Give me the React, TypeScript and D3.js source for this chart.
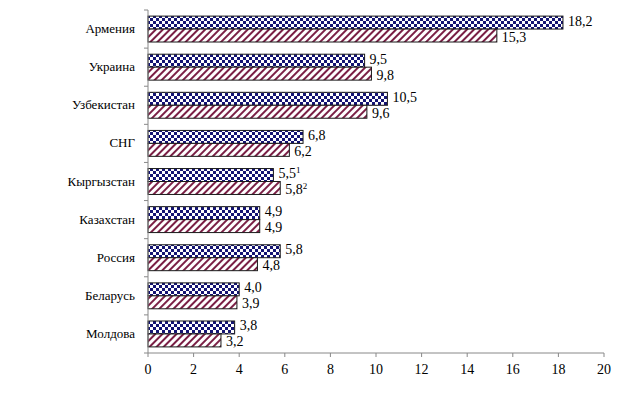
import React from 'react'
import * as d3 from 'd3'

const countries = ['Армения', 'Украина', 'Узбекистан', 'СНГ', 'Кыргызстан', 'Казахстан', 'Россия', 'Беларусь', 'Молдова']
const seriesA = [18.2, 9.5, 10.5, 6.8, 5.5, 4.9, 5.8, 4.0, 3.8]
const seriesB = [15.3, 9.8, 9.6, 6.2, 5.8, 4.9, 4.8, 3.9, 3.2]
const notesA = ['', '', '', '', '1', '', '', '', '']
const notesB = ['', '', '', '', '2', '', '', '', '']
const xTicks = [0, 2, 4, 6, 8, 10, 12, 14, 16, 18, 20]

const fmt = (v: number) => v.toFixed(1).replace('.', ',')

export default function App() {
    const width = 625
    const height = 394
    const left = 148
    const right = 604
    const top = 10
    const bottom = 353

    const x = d3.scaleLinear().domain([0, 20]).range([left, right])
    const y = d3.scaleBand<string>()
        .domain(countries)
        .range([top, bottom])
        .paddingInner(0.32)
        .paddingOuter(0.16)
    const sub = d3.scaleBand<string>().domain(['a', 'b']).range([0, y.bandwidth()])

    const step = y.step()
    const gap = step * 0.32 / 2
    const boundaries = countries.map(c => (y(c) as number) - gap).concat([bottom])

    const series = [
        { key: 'a', values: seriesA, notes: notesA, fill: 'url(#checks)' },
        { key: 'b', values: seriesB, notes: notesB, fill: 'url(#stripes)' },
    ]

    return (
        <div style={{ margin: '-8px' }}>
            <svg width={width} height={height} fontFamily="Liberation Serif" style={{ display: 'block' }}>
                <defs>
                    <pattern id="checks" width="6" height="6" patternUnits="userSpaceOnUse">
                        <rect width="6" height="6" fill="#ffffff" />
                        <rect width="3" height="3" fill="#141473" />
                        <rect x="3" y="3" width="3" height="3" fill="#141473" />
                    </pattern>
                    <pattern id="stripes" width="5" height="5" patternUnits="userSpaceOnUse" patternTransform="rotate(45)">
                        <rect width="5" height="5" fill="#ffffff" />
                        <rect width="2" height="5" fill="#7a1f45" />
                    </pattern>
                </defs>

                {series.map(s => (
                    <g key={s.key}>
                        {countries.map((c, i) => {
                            const yy = (y(c) as number) + (sub(s.key) as number)
                            const h = sub.bandwidth()
                            return (
                                <g key={c}>
                                    <rect x={x(0)} y={yy} width={x(s.values[i]) - x(0)} height={h}
                                        fill={s.fill} stroke="#1a1a1a" strokeWidth={1} />
                                    <text x={x(s.values[i]) + 5} y={yy + h / 2 + (s.key === 'a' ? 3 : 6)}
                                        fontFamily="Liberation Serif" fontSize={14} fill="#000">
                                        {fmt(s.values[i])}
                                        {s.notes[i] && (
                                            <tspan fontSize={9} dy={-5}>{s.notes[i]}</tspan>
                                        )}
                                    </text>
                                </g>
                            )
                        })}
                    </g>
                ))}

                {/* category axis */}
                <line x1={left} x2={left} y1={top} y2={bottom} stroke="#888" />
                {boundaries.map((b, i) => (
                    <line key={i} x1={left - 4} x2={left} y1={b} y2={b} stroke="#888" />
                ))}
                {countries.map(c => (
                    <text key={c} x={135} y={(y(c) as number) + y.bandwidth() / 2 + 4}
                        textAnchor="end" fontFamily="Liberation Serif" fontSize={13} fill="#000">{c}</text>
                ))}

                {/* value axis */}
                <line x1={left} x2={right} y1={bottom} y2={bottom} stroke="#888" />
                {xTicks.map(t => (
                    <g key={t}>
                        <line x1={x(t)} x2={x(t)} y1={bottom} y2={bottom + 4} stroke="#888" />
                        <text x={x(t)} y={bottom + 21} textAnchor="middle" fontFamily="Liberation Serif" fontSize={14} fill="#000">{t}</text>
                    </g>
                ))}
            </svg>
        </div>
    )
}
